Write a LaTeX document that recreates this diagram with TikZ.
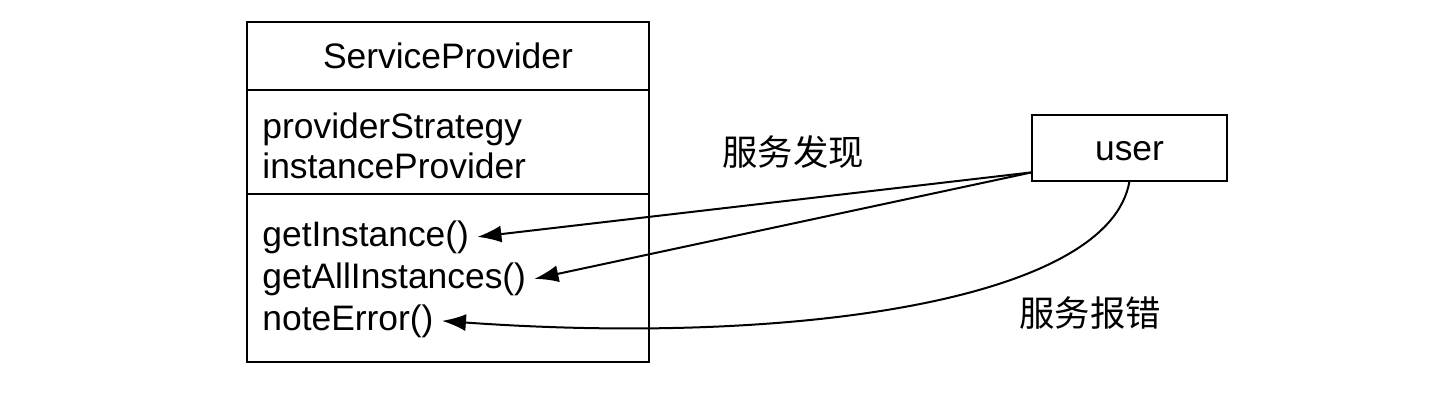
\documentclass[tikz,border=0pt]{standalone}
\usepackage{fontspec}
\setmainfont{Liberation Sans}
\newfontfamily\cjk{Noto Sans CJK SC}
\usetikzlibrary{arrows.meta, positioning, calc}

\tikzset{
  classbox/.style={draw, line width=1pt, minimum width=201pt, inner sep=0pt, outer sep=0pt},
  member/.style={anchor=base west, inner xsep=4pt, inner ysep=0pt},
  call/.style={-{Latex[length=12pt, width=8.5pt]}, line width=1pt},
  umlfont/.style={font=\fontsize{17.7}{21}\selectfont}
}

\begin{document}
\begin{tikzpicture}[x=0.5pt, y=-0.5pt, umlfont]
\useasboundingbox (0,0) rectangle (1434,404);

 %%Paramaters
%% class position, can be modified
\def\classX{448}
\def\memberX{254}

%% ***Class : ServiceProvider***
\node[classbox, minimum height=34pt, text height=12.5pt, text depth=0pt] (head) at (\classX, 56) {ServiceProvider};
\node[classbox, minimum height=52pt, below=0pt of head] (fields) {};
\node[classbox, minimum height=84pt, below=0pt of fields] (methods) {};

% fields
\node[member] (strategy) at (\memberX, 138) {providerStrategy};
\node[member] (instprov) at (\memberX, 178) {instanceProvider};
% methods
\node[member] (getinst) at (\memberX, 246) {getInstance()};
\node[member] (getall) at (\memberX, 288) {getAllInstances()};
\node[member] (noteerr) at (\memberX, 330) {noteError()};

%% user
\node[draw, line width=1pt, outer sep=0pt, minimum width=97.5pt, minimum height=33pt, text height=12pt, text depth=0pt] at (1129.5, 148) (user) {user};

\node at (793, 152) (discover) {\cjk 服务发现};
\node at (1090, 313) (report) {\cjk 服务报错};

%% calls
\draw[call] (user.194) -- (getinst.east);
\draw[call] (user.194) -- (getall.east);
\draw[call] (user.south) .. controls +(-20, 120) and +(350, 25) .. (noteerr.east);

\end{tikzpicture}
\end{document}
